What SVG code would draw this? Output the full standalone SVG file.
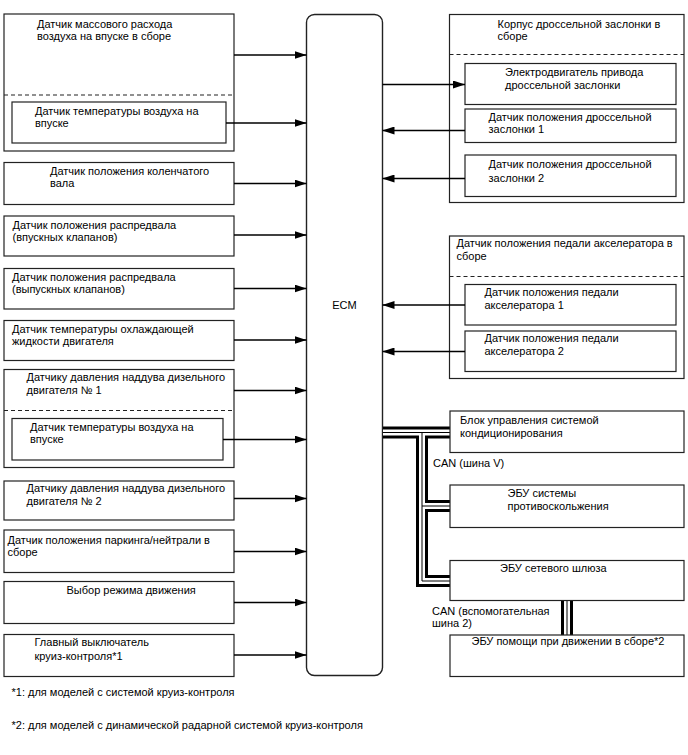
<svg xmlns="http://www.w3.org/2000/svg" width="688" height="755" viewBox="0 0 688 755">
<defs>
<marker id="ah" markerUnits="userSpaceOnUse" markerWidth="12" markerHeight="8" refX="12" refY="4" orient="auto">
<path d="M0,0 L12,4 L0,8 z" fill="#000"/>
</marker>
</defs>
<style>
rect.b{fill:#fff;stroke:#222;stroke-width:1.2}
line.d{stroke:#222;stroke-width:1.2;stroke-dasharray:4,3}
text{font-family:"Liberation Sans",Arial,sans-serif;font-size:11px;fill:#000}
.c line{stroke:#000;stroke-width:1.3;marker-end:url(#ah)}
.bus1{fill:none;stroke:#000;stroke-width:12}
.bus2{fill:none;stroke:#fff;stroke-width:6}
.bus3{fill:none;stroke:#000;stroke-width:1}
</style>
<rect width="688" height="755" fill="#fff"/>

<g id="ecm">
<rect x="306.5" y="14.5" width="76" height="661" rx="8" ry="8" fill="#fff" stroke="#222" stroke-width="1.4"/>
<text x="344.5" y="309" text-anchor="middle">ECM</text>
</g>

<g id="maf">
<rect class="b" x="4" y="14" width="230" height="137"/>
<text x="37" y="27.5">Датчик массового расхода</text>
<text x="37" y="39.5">воздуха на впуске в сборе</text>
<line class="d" x1="4" y1="95" x2="234" y2="95"/>
</g>
<g id="iat1">
<rect class="b" x="12" y="102" width="214" height="41"/>
<text x="35" y="114.5">Датчик температуры воздуха на</text>
<text x="35" y="127">впуске</text>
</g>
<g id="ckp">
<rect class="b" x="4" y="162.5" width="230" height="42"/>
<text x="50" y="174.5">Датчик положения коленчатого</text>
<text x="50" y="187">вала</text>
</g>
<g id="cmp-in">
<rect class="b" x="4" y="216" width="230" height="40"/>
<text x="12.5" y="228.5">Датчик положения распредвала</text>
<text x="12.5" y="240.5">(впускных клапанов)</text>
</g>
<g id="cmp-ex">
<rect class="b" x="4" y="268.5" width="230" height="40.5"/>
<text x="12" y="281">Датчик положения распредвала</text>
<text x="12" y="293">(выпускных клапанов)</text>
</g>
<g id="ect">
<rect class="b" x="4" y="320.5" width="230" height="40"/>
<text x="12" y="333">Датчик температуры охлаждающей</text>
<text x="12" y="345">жидкости двигателя</text>
</g>
<g id="boost1">
<rect class="b" x="4" y="369.5" width="230" height="98"/>
<text x="26.5" y="381">Датчику давления наддува дизельного</text>
<text x="26.5" y="394">двигателя № 1</text>
<line class="d" x1="4" y1="410.5" x2="234" y2="410.5"/>
</g>
<g id="iat2">
<rect class="b" x="12" y="418.5" width="211" height="41.5"/>
<text x="30" y="430.5">Датчик температуры воздуха на</text>
<text x="30" y="443">впуске</text>
</g>
<g id="boost2">
<rect class="b" x="4" y="481" width="230" height="39"/>
<text x="26.5" y="491.5">Датчику давления наддува дизельного</text>
<text x="26.5" y="504.5">двигателя № 2</text>
</g>
<g id="pnp">
<rect class="b" x="4" y="530" width="230" height="42.5"/>
<text x="7.5" y="543.5">Датчик положения паркинга/нейтрали в</text>
<text x="7.5" y="556">сборе</text>
</g>
<g id="mode">
<rect class="b" x="4" y="581.5" width="230" height="42"/>
<text x="66.5" y="593.5">Выбор режима движения</text>
</g>
<g id="cruise">
<rect class="b" x="4" y="634.5" width="230" height="42"/>
<text x="34.5" y="646">Главный выключатель</text>
<text x="34.5" y="659.5">круиз-контроля*1</text>
</g>

<g id="throttle">
<rect class="b" x="449.5" y="14.5" width="234.5" height="188"/>
<text x="497.5" y="27.5">Корпус дроссельной заслонки в</text>
<text x="497.5" y="39.5">сборе</text>
<line class="d" x1="449.5" y1="54.5" x2="684" y2="54.5"/>
</g>
<g id="motor">
<rect class="b" x="465" y="63.5" width="211" height="41"/>
<text x="505" y="75.5">Электродвигатель привода</text>
<text x="505" y="88.5">дроссельной заслонки</text>
</g>
<g id="tps1">
<rect class="b" x="465" y="109" width="211" height="33.5"/>
<text x="488.5" y="120.5">Датчик положения дроссельной</text>
<text x="488.5" y="133">заслонки 1</text>
</g>
<g id="tps2">
<rect class="b" x="465" y="155" width="211" height="41.5"/>
<text x="488.5" y="168">Датчик положения дроссельной</text>
<text x="488.5" y="182">заслонки 2</text>
</g>
<g id="app">
<rect class="b" x="449.5" y="236" width="234.5" height="142.5"/>
<text x="456.5" y="247">Датчик положения педали акселератора в</text>
<text x="456.5" y="259.5">сборе</text>
<line class="d" x1="449.5" y1="276.5" x2="684" y2="276.5"/>
</g>
<g id="app1">
<rect class="b" x="465" y="284.5" width="211" height="40.5"/>
<text x="484.5" y="296">Датчик положения педали</text>
<text x="484.5" y="308.5">акселератора 1</text>
</g>
<g id="app2">
<rect class="b" x="465" y="331" width="211" height="40.5"/>
<text x="484.5" y="342">Датчик положения педали</text>
<text x="484.5" y="355">акселератора 2</text>
</g>

<g id="bus">
<path class="bus1" d="M383,432.5 H450 M422,432.5 V581 H450 M422,506 H450 M567,600.5 V635"/>
<path class="bus2" d="M383,432.5 H450 M422,432.5 V581 H450 M422,506 H450 M567,600.5 V635"/>
<path class="bus3" d="M383,432.5 H450 M422,432.5 V581 H450 M422,506 H450 M567,600.5 V635"/>
</g>

<g id="ac">
<rect class="b" x="450" y="411" width="234" height="41.5"/>
<text x="460" y="423.5">Блок управления системой</text>
<text x="460" y="437">кондиционирования</text>
</g>
<g id="skid">
<rect class="b" x="450" y="485" width="234" height="42.5"/>
<text x="507.5" y="497">ЭБУ системы</text>
<text x="507.5" y="509.5">противоскольжения</text>
</g>
<g id="gateway">
<rect class="b" x="450" y="560.5" width="234" height="40"/>
<text x="500" y="572">ЭБУ сетевого шлюза</text>
</g>
<g id="assist">
<rect class="b" x="450" y="635" width="234" height="41.5"/>
<text x="471.5" y="645">ЭБУ помощи при движении в сборе*2</text>
</g>
<g id="can-labels">
<text x="433" y="467">CAN (шина V)</text>
<text x="432" y="615">CAN (вспомогательная</text>
<text x="432" y="627">шина 2)</text>
</g>

<g id="connectors" class="c">
<line x1="234" y1="55" x2="306.5" y2="55"/>
<line x1="226" y1="123" x2="306.5" y2="123"/>
<line x1="234" y1="183.5" x2="306.5" y2="183.5"/>
<line x1="234" y1="235" x2="306.5" y2="235"/>
<line x1="234" y1="288.5" x2="306.5" y2="288.5"/>
<line x1="234" y1="340" x2="306.5" y2="340"/>
<line x1="234" y1="390.5" x2="306.5" y2="390.5"/>
<line x1="223" y1="439.5" x2="306.5" y2="439.5"/>
<line x1="234" y1="498.5" x2="306.5" y2="498.5"/>
<line x1="234" y1="551.5" x2="306.5" y2="551.5"/>
<line x1="234" y1="602.5" x2="306.5" y2="602.5"/>
<line x1="234" y1="655" x2="306.5" y2="655"/>
<line x1="382.5" y1="84.5" x2="465" y2="84.5"/>
<line x1="465" y1="130.5" x2="382.5" y2="130.5"/>
<line x1="465" y1="178.5" x2="382.5" y2="178.5"/>
<line x1="465" y1="305" x2="382.5" y2="305"/>
<line x1="465" y1="351.5" x2="382.5" y2="351.5"/>
</g>

<g id="notes">
<text x="11.5" y="695.5">*1: для моделей с системой круиз-контроля</text>
<text x="11.5" y="729">*2: для моделей с динамической радарной системой круиз-контроля</text>
</g>
</svg>
